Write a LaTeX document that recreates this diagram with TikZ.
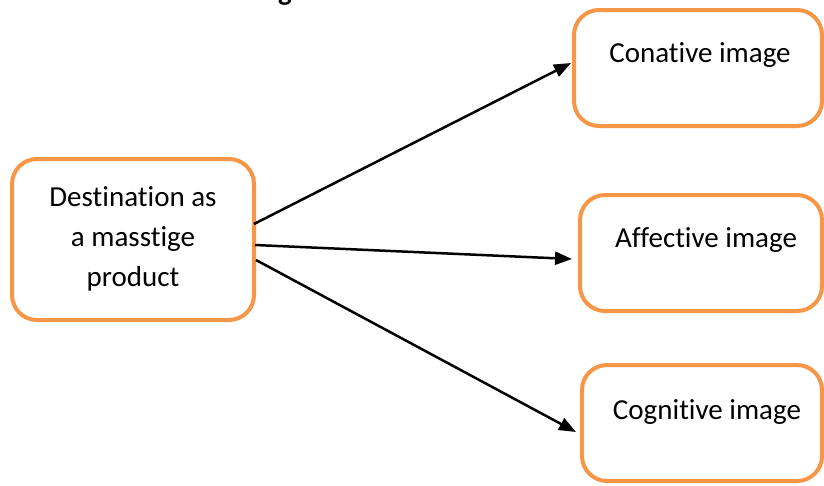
\documentclass[tikz,border=0pt]{standalone}
\usepackage{fontspec}
\setmainfont{Carlito}[Ligatures={NoCommon}]
\usetikzlibrary{arrows.meta,calc}
\definecolor{boxorange}{HTML}{F79646}
\begin{document}
\begin{tikzpicture}[x=1pt,y=-1pt,
  box/.style={draw=boxorange, line width=4pt, rounded corners=25pt, rectangle, inner sep=0pt, fill=white},
  txt/.style={inner sep=0pt, font=\fontsize{29}{40}\selectfont, text=black},
  arr/.style={line width=2.5pt, -{Triangle[length=17pt,width=13pt]}}]
\useasboundingbox (0,0) rectangle (824,485);
\fill[white] (0,0) rectangle (824,485);
% cut-off title fragment
\node[txt, anchor=base, font=\fontsize{29}{40}\selectfont\bfseries] (title) at (285,0) {g};
% boxes
\node[box, minimum width=242pt, minimum height=161pt] (src) at (133,239.5) {};
\node[box, minimum width=248pt, minimum height=116pt] (con) at (698,68) {};
\node[box, minimum width=242pt, minimum height=116pt] (aff) at (701,253) {};
\node[box, minimum width=240pt, minimum height=116pt] (cog) at (702,423) {};
% texts
\node[txt, align=center, anchor=center] (srct) at (133,239) {Destination as\\a masstige\\product};
\node[txt, anchor=base] (cont) at (700,62) {Conative image};
\node[txt, anchor=base] (afft) at (706,247) {Affective image};
\node[txt, anchor=base] (cogt) at (707,419) {Cognitive image};
% connectors
\draw[arr] ([yshift=15.5pt,xshift=-2pt]src.east) -- ([xshift=-1pt,yshift=5pt]con.west);
\draw[arr] ([yshift=-5.5pt,xshift=-1pt]src.east) -- ([xshift=-6pt,yshift=-6pt]aff.west);
\draw[arr] ([yshift=-20.5pt]src.east) -- ([xshift=-4pt,yshift=-9pt]cog.west);
\end{tikzpicture}
\end{document}
